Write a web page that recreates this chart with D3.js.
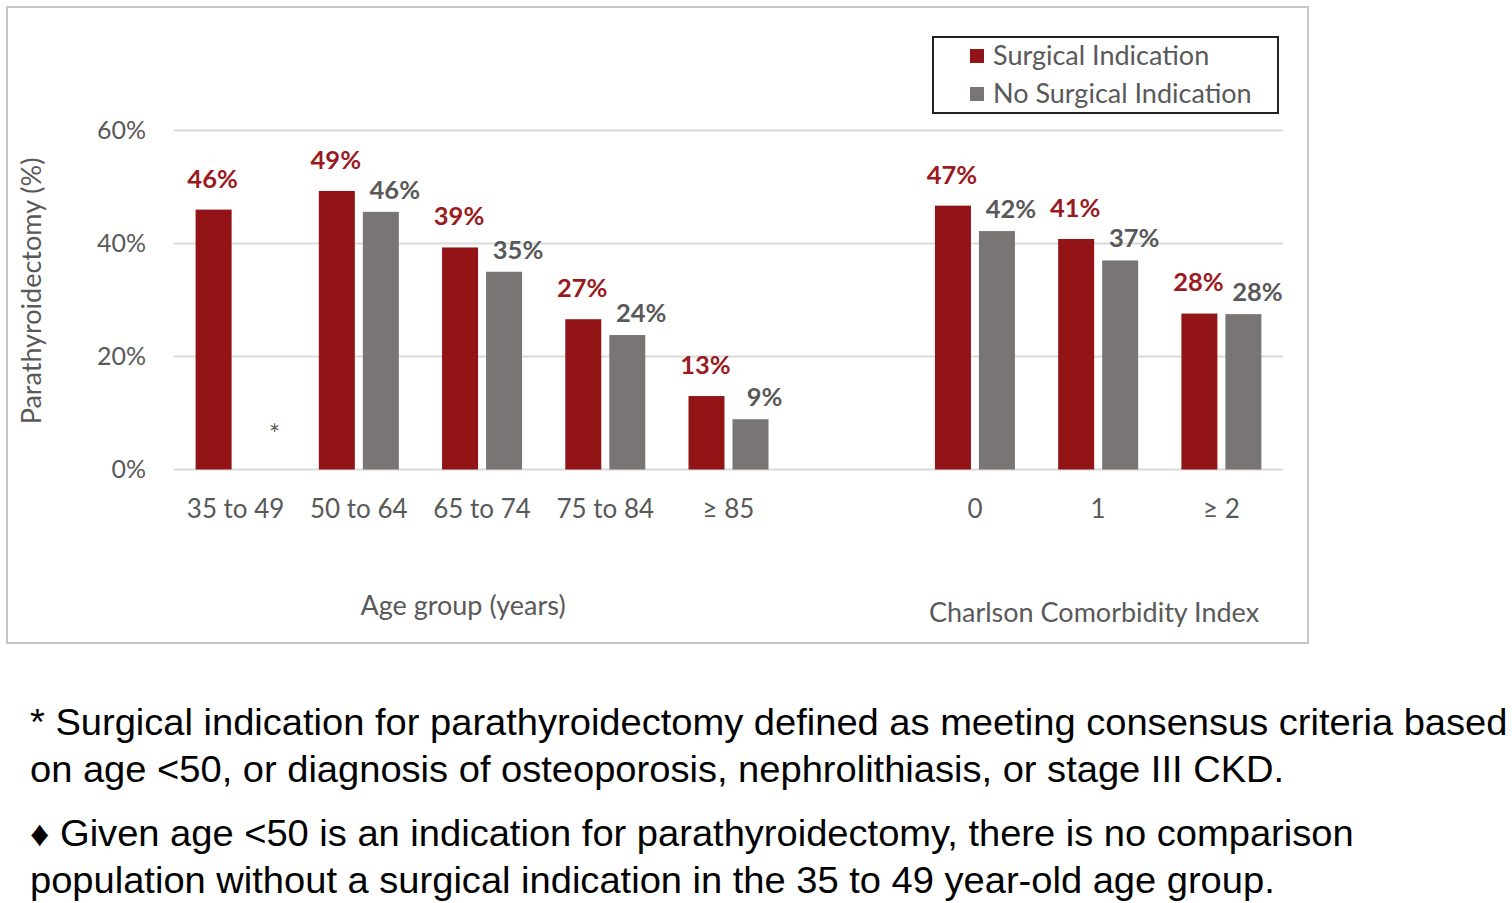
<!DOCTYPE html>
<html>
<head>
<meta charset="utf-8">
<script src="https://cdn.jsdelivr.net/npm/d3@7"></script>
<style>
  html, body { margin: 0; padding: 0; background: #ffffff; }
  svg { display: block; }
</style>
</head>
<body>
<svg id="chart" width="1512" height="903"></svg>
<script>
// ---- data ----
const categories = ["35 to 49", "50 to 64", "65 to 74", "75 to 84", "\u2265 85", "gap", "0", "1", "\u2265 2"];
const seriesNames = ["Surgical Indication", "No Surgical Indication"];
const surgicalValues = [46.0, 49.3, 39.3, 26.6, 13.0, null, 46.7, 40.8, 27.6];
const noSurgicalValues = [null, 45.6, 35.0, 23.8, 8.9, null, 42.2, 37.0, 27.5];
const yTicks = [0, 20, 40, 60];
const groupTitles = ["Age group (years)", "Charlson Comorbidity Index"];
const footnotes = [
  "* Surgical indication for parathyroidectomy defined as meeting consensus criteria based",
  "on age <50, or diagnosis of osteoporosis, nephrolithiasis, or stage III CKD.",
  "\u2666 Given age <50 is an indication for parathyroidectomy, there is no comparison",
  "population without a surgical indication in the 35 to 49 year-old age group."
];

// ---- styles ----
const RED = "#921416", GREY = "#7a7575";
const RED_TXT = "#9a1b1f", GREY_TXT = "#595959";
const FONT = "Lato, 'Open Sans', sans-serif";

const svg = d3.select("#chart");

// chart frame
svg.append("rect").attr("x", 7).attr("y", 7).attr("width", 1301).attr("height", 636)
  .attr("fill", "#fff").attr("stroke", "#c6c6c6").attr("stroke-width", 2);

const x0 = d3.scaleBand().domain(categories).range([174, 1283]).padding(0);
const x1 = d3.scaleBand().domain(seriesNames)
  .range([x0.bandwidth() / 2 - 40, x0.bandwidth() / 2 + 40])
  .paddingInner(8 / 44).paddingOuter(0);
const y = d3.scaleLinear().domain([0, 60]).range([469.5, 130.5]);

// gridlines
svg.append("g").selectAll("line").data(yTicks).join("line")
  .attr("x1", 174).attr("x2", 1283)
  .attr("y1", d => y(d)).attr("y2", d => y(d))
  .attr("stroke", "#d9d9d9").attr("stroke-width", 2);

// y axis
const yAxis = svg.append("g").attr("transform", "translate(150,0)")
  .call(d3.axisLeft(y).tickValues(yTicks).tickSize(0).tickPadding(4).tickFormat(d => d + "%"));
yAxis.select(".domain").remove();
yAxis.selectAll("text").attr("font-family", FONT).attr("font-size", 25).attr("fill", GREY_TXT);

// x axis
const xAxis = svg.append("g").attr("transform", `translate(0,${y(0)})`)
  .call(d3.axisBottom(x0).tickSize(0).tickPadding(30).tickFormat(d => d === "gap" ? "" : d));
xAxis.select(".domain").remove();
xAxis.selectAll("text").attr("font-family", FONT).attr("font-size", 26).attr("fill", GREY_TXT);

// y title
svg.append("text").attr("transform", "translate(41,291) rotate(-90)")
  .attr("text-anchor", "middle").attr("font-family", FONT).attr("font-size", 27)
  .attr("fill", GREY_TXT).text("Parathyroidectomy (%)");

// group titles
svg.append("text").attr("x", 463).attr("y", 615).attr("text-anchor", "middle")
  .attr("font-family", FONT).attr("font-size", 27).attr("fill", GREY_TXT).text(groupTitles[0]);
svg.append("text").attr("x", 1094).attr("y", 622).attr("text-anchor", "middle")
  .attr("font-family", FONT).attr("font-size", 27).attr("fill", GREY_TXT).text(groupTitles[1]);

// bars
const rows = categories.map((c, i) => ({ cat: c, vals: [surgicalValues[i], noSurgicalValues[i]] }));
const colors = [RED, GREY];
const txtColors = [RED_TXT, GREY_TXT];
const labelDx = [-1, 14];
const labelDy = [-31, -22];

const groups = svg.append("g").selectAll("g").data(rows).join("g")
  .attr("transform", d => `translate(${x0(d.cat)},0)`);

groups.selectAll("rect")
  .data(d => d.vals.map((v, k) => ({ v, k })).filter(e => e.v != null))
  .join("rect")
  .attr("x", e => x1(seriesNames[e.k]))
  .attr("width", x1.bandwidth())
  .attr("y", e => y(e.v))
  .attr("height", e => y(0) - y(e.v))
  .attr("fill", e => colors[e.k]);

groups.selectAll("text.lbl")
  .data(d => d.vals.map((v, k) => ({ v, k })).filter(e => e.v != null))
  .join("text").attr("class", "lbl")
  .attr("x", e => x1(seriesNames[e.k]) + x1.bandwidth() / 2 + labelDx[e.k])
  .attr("y", e => y(e.v) + labelDy[e.k])
  .attr("dy", "0.35em")
  .attr("text-anchor", "middle")
  .attr("font-family", FONT).attr("font-size", 25.5).attr("font-weight", "bold")
  .attr("fill", e => txtColors[e.k])
  .text(e => Math.round(e.v) + "%");

// asterisk for missing comparison
rows.forEach(r => {
  if (r.cat !== "gap" && r.vals[1] == null) {
    svg.append("text")
      .attr("x", x0(r.cat) + x1(seriesNames[1]) + x1.bandwidth() / 2 + labelDx[1] + 3)
      .attr("y", y(0) - 26).attr("text-anchor", "middle")
      .attr("font-family", FONT).attr("font-size", 26).attr("fill", GREY_TXT).text("*");
  }
});

// legend
const lg = svg.append("g");
lg.append("rect").attr("x", 933).attr("y", 37).attr("width", 345).attr("height", 76)
  .attr("fill", "#fff").attr("stroke", "#222").attr("stroke-width", 2);
seriesNames.forEach((s, i) => {
  lg.append("rect").attr("x", 970).attr("y", 49 + i * 38).attr("width", 14).attr("height", 14)
    .attr("fill", colors[i]);
  lg.append("text").attr("x", 993).attr("y", 56 + i * 38).attr("dy", "0.35em")
    .attr("font-family", FONT).attr("font-size", 27).attr("fill", GREY_TXT).text(s);
});

// footnotes
const fn = svg.append("g");
const fnY = [722, 769, 833, 880];
const fnTexts = footnotes.map((t, i) => fn.append("text")
  .attr("x", 0).attr("y", fnY[i]).attr("dy", "0.35em")
  .attr("font-family", "'Liberation Sans', Arial, sans-serif").attr("font-size", 36)
  .attr("fill", "#000").text(t));
const w0 = fnTexts[0].node().getComputedTextLength();
const sx = 1478 / w0;
fn.attr("transform", `translate(30,0) scale(${sx},1)`);
</script>
</body>
</html>
